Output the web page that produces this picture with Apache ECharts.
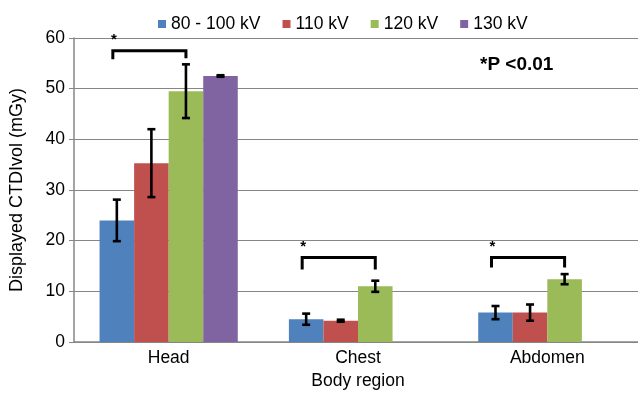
<!DOCTYPE html>
<html><head><meta charset="utf-8">
<script src="https://cdn.jsdelivr.net/npm/echarts@6/dist/echarts.min.js"></script>
<style>html,body{margin:0;padding:0;background:#fff}#c{width:638px;height:393px}</style>
</head><body><div id="c"></div>
<script>
var categories = ['Head', 'Chest', 'Abdomen'];
var seriesNames = ['80 - 100 kV', '110 kV', '120 kV', '130 kV'];
var v80 = [24.0, 4.5, 5.8];
var v110 = [35.3, 4.2, 5.8];
var v120 = [49.5, 11.0, 12.4];
var v130 = [52.5, null, null];
var err80 = [4.1, 1.1, 1.3];
var err110 = [6.7, 0.2, 1.6];
var err120 = [5.3, 1.1, 1.0];
var err130 = [0.15, null, null];
var bracketTop = [57.5, 16.7, 16.7];
var bracketLeftFoot = [55.8, 14.3, 14.7];
var bracketRightFoot = [56.0, 14.3, 14.7];
var yTicks = [0, 10, 20, 30, 40, 50, 60];

var colors = ['#4F81BD', '#C0504D', '#9BBB59', '#8064A2'];
var FONT = 'Liberation Sans';
var GAP = 0.27;
var values = [v80, v110, v120, v130];
var errs = [err80, err110, err120, err130];

var errData = [];
for (var s = 0; s < 4; s++) {
  for (var c = 0; c < categories.length; c++) {
    if (values[s][c] != null && errs[s][c] != null) {
      errData.push([c, s, values[s][c] - errs[s][c], values[s][c] + errs[s][c]]);
    }
  }
}
var brData = categories.map(function (_, i) { return [i, bracketTop[i], bracketLeftFoot[i], bracketRightFoot[i]]; });

function barW(api) { return api.size([1, 0])[0] * (1 - GAP) / 4; }

var series = seriesNames.map(function (n, i) {
  return {
    name: n, type: 'bar', data: values[i], barGap: '0%', barCategoryGap: (GAP * 100) + '%',
    itemStyle: { color: colors[i] }, silent: true
  };
});
series.push({
  type: 'custom', silent: true, z: 5,
  data: errData,
  renderItem: function (params, api) {
    var c = api.value(0), s = api.value(1);
    var bw = barW(api);
    var x = api.coord([c, 0])[0] + (s - 1.5) * bw;
    var lo = api.coord([c, api.value(2)])[1];
    var hi = api.coord([c, api.value(3)])[1];
    var cap = 4;
    var st = { stroke: '#000', lineWidth: 2.6 };
    return { type: 'group', children: [
      { type: 'line', shape: { x1: x, y1: lo, x2: x, y2: hi }, style: st },
      { type: 'line', shape: { x1: x - cap, y1: lo, x2: x + cap, y2: lo }, style: st },
      { type: 'line', shape: { x1: x - cap, y1: hi, x2: x + cap, y2: hi }, style: st }
    ] };
  }
});
series.push({
  type: 'custom', silent: true, z: 5,
  data: brData,
  renderItem: function (params, api) {
    var c = api.value(0);
    var bw = barW(api);
    var cx = api.coord([c, 0])[0];
    var xl = cx - 1.5 * bw - 4;
    var xr = cx + 0.5 * bw;
    var yt = api.coord([c, api.value(1)])[1];
    var yl = api.coord([c, api.value(2)])[1];
    var yr = api.coord([c, api.value(3)])[1];
    var st = { stroke: '#000', lineWidth: 3, fill: null };
    return { type: 'group', children: [
      { type: 'polyline', shape: { points: [[xl, yl], [xl, yt], [xr, yt], [xr, yr]] }, style: st },
      { type: 'text', x: xl + 1, y: yt - 3, style: { text: '*', fill: '#000', font: 'bold 15px ' + FONT, align: 'center', verticalAlign: 'bottom' } }
    ] };
  }
});

var chart = echarts.init(document.getElementById('c'), null, { renderer: 'canvas' });
chart.setOption({
  animation: false,
  color: colors,
  textStyle: { fontFamily: FONT },
  legend: {
    data: seriesNames, top: 10, left: 153, itemWidth: 8, itemHeight: 8, itemGap: 22,
    icon: 'rect', textStyle: { fontFamily: FONT, fontSize: 17.5, color: '#000' }
  },
  grid: { left: 74, top: 38, width: 568, bottom: 51, containLabel: false, outerBoundsMode: 'none' },
  xAxis: {
    type: 'category', data: categories,
    name: 'Body region', nameLocation: 'middle', nameGap: 30,
    nameTextStyle: { fontFamily: FONT, fontSize: 17.5, color: '#000' },
    axisLine: { lineStyle: { color: '#868686', width: 1.5 } },
    axisTick: { show: false },
    axisLabel: { fontFamily: FONT, fontSize: 17.5, color: '#000', margin: 7 }
  },
  yAxis: {
    type: 'value', min: 0, max: 60, interval: 10,
    name: 'Displayed CTDIvol (mGy)', nameLocation: 'middle', nameGap: 48,
    nameTextStyle: { fontFamily: FONT, fontSize: 18, color: '#000' },
    axisLine: { show: true, lineStyle: { color: '#868686', width: 1.5 } },
    axisTick: { show: true, length: 5, lineStyle: { color: '#868686' } },
    axisLabel: { fontFamily: FONT, fontSize: 17.5, color: '#000', margin: 9,
      formatter: function (v) { return yTicks.indexOf(v) >= 0 ? String(v) : ''; } },
    splitLine: { lineStyle: { color: '#868686', width: 1.2 } }
  },
  graphic: [{
    type: 'text', left: 480, top: 55,
    style: { text: '*P <0.01', font: 'bold 19px ' + FONT, fill: '#000' }
  }],
  series: series
});
</script></body></html>
